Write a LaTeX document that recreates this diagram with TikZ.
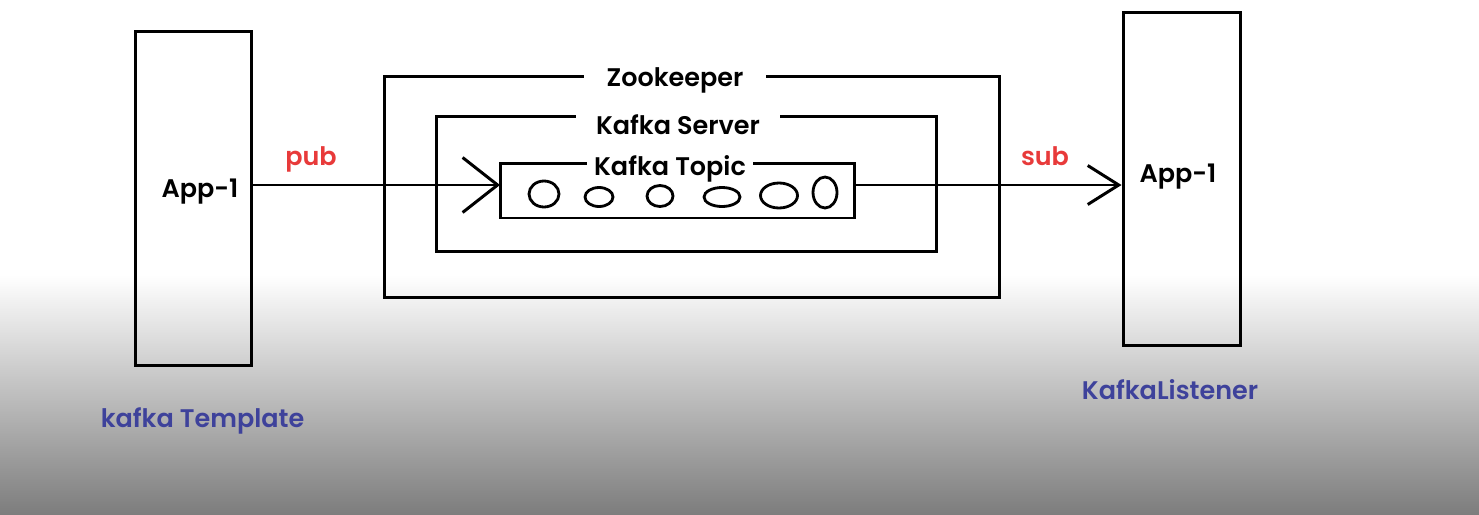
\documentclass[tikz,border=0pt]{standalone}
\usepackage{fontspec}
\setmainfont{Poppins}[BoldFont={Poppins SemiBold}]
\usetikzlibrary{arrows.meta}
\definecolor{pubred}{RGB}{232,58,58}
\definecolor{tplblue}{RGB}{62,66,155}
\begin{document}
\begin{tikzpicture}[
                x=0.02cm, y=-0.02cm,
                box/.style={rectangle, draw=black, line width=1.7pt, inner sep=0pt},
                boxtitle/.style={fill=white, inner ysep=1pt, anchor=base, font=\fontsize{14.5}{17}\selectfont\bfseries},
                apptext/.style={anchor=base, font=\fontsize{14.5}{17}\selectfont\bfseries},
                flowtext/.style={anchor=base, text=pubred, font=\fontsize{14.5}{17}\selectfont\bfseries},
                tagtext/.style={anchor=base, text=tplblue, font=\fontsize{14.5}{17}\selectfont\bfseries},
                flow/.style={line width=1.7pt, line join=round}
            ]
            \useasboundingbox (0,0) rectangle (1479,514);

            % Background
            \fill[white] (0,0) rectangle (1479,276);
            \shade[top color=white, bottom color=black!51] (0,275) rectangle (1479,514);

            % Applications
            \node[box, minimum width=2.34cm, minimum height=6.7cm] (app1) at (193.5,198.5) {};
            \node[box, minimum width=2.34cm, minimum height=6.68cm] (app2) at (1181.5,179) {};
            \node[apptext] (app1txt) at (200,197) {App-1};
            \node[apptext] (app2txt) at (1178,182) {App-1};

            % Nested boxes
            \node[box, minimum width=12.32cm, minimum height=4.44cm] (zoo) at (692,187) {};
            \node[box, minimum width=10.02cm, minimum height=2.72cm] (server) at (686.5,184) {};
            \node[box, minimum width=7.1cm, minimum height=1.1cm] (topic) at (677.5,190.5) {};
            \node[boxtitle, inner xsep=0.45cm] (zootxt) at (675,86) {Zookeeper};
            \node[boxtitle, inner xsep=0.4cm] (servertxt) at (678,134) {Kafka Server};
            \node[boxtitle, inner xsep=0.15cm] (topictxt) at (670,175) {Kafka Topic};

            % Messages in the topic
            \foreach \cx/\cy/\rx/\ry in {544/194/15/13, 599/197/14/9.5, 660/196/13/10.5,
                                         722/197/18/9.5, 779/195.5/18.5/12.5, 825/192.5/12/15.5}
                \draw[line width=1.6pt] (\cx,\cy) ellipse [x radius=\rx, y radius=\ry];

            % Edges
            \coordinate (pubin) at (500,185);
            \coordinate (subout) at (855,185);
            \draw[flow, -{Straight Barb[length=0.7cm, width=1.1cm]}] (app1.east |- pubin) -- (pubin);
            \draw[flow, -{Straight Barb[length=0.62cm, width=0.78cm]}] (subout) -- (app2.west |- subout);
            \node[flowtext] (pub) at (311,165) {pub};
            \node[flowtext] (sub) at (1045,165) {sub};

            % Client labels
            \node[tagtext] (tpl) at (202.5,427) {kafka Template};
            \node[tagtext] (lsn) at (1170,399) {KafkaListener};

        \end{tikzpicture}
\end{document}
